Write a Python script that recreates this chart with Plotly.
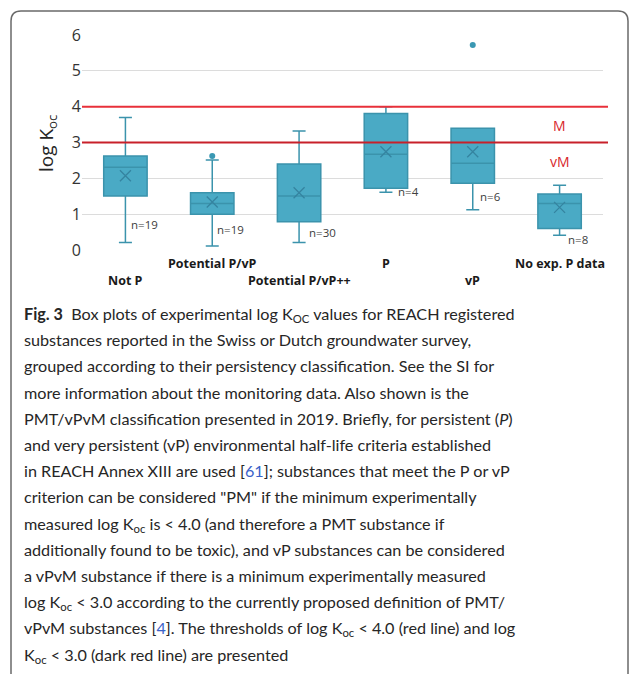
import plotly.graph_objects as go

# ---------------- data ----------------
categories = ["Not P", "Potential P/vP", "Potential P/vP++", "P", "vP", "No exp. P data"]
q1 = [1.51, 1.00, 0.79, 1.72, 1.86, 0.60]
median = [2.31, 1.30, 1.51, 2.67, 2.42, 1.30]
q3 = [2.62, 1.60, 2.40, 3.81, 3.40, 1.56]
lower_whisker = [0.21, 0.11, 0.21, 1.61, 1.12, 0.41]
upper_whisker = [3.70, 2.51, 3.32, 4.00, 3.40, 1.81]
means = [2.07, 1.34, 1.60, 2.74, 2.74, 1.19]
n_counts = [19, 19, 30, 4, 6, 8]
outlier_cats = ["Potential P/vP", "vP"]
outlier_vals = [2.62, 5.72]
thresholds = [4.0, 3.0]
threshold_labels = ["M", "vM"]
y_ticks = [0, 1, 2, 3, 4, 5, 6]

caption_lines = [
    "<b>Fig. 3</b>&nbsp; Box plots of experimental log K<sub>OC</sub> values for REACH registered",
    "substances reported in the Swiss or Dutch groundwater survey,",
    "grouped according to their persistency classification. See the SI for",
    "more information about the monitoring data. Also shown is the",
    "PMT/vPvM classification presented in 2019. Briefly, for persistent (<i>P</i>)",
    "and very persistent (vP) environmental half-life criteria established",
    "in REACH Annex XIII are used [<span style='color:#3a62c9'>61</span>]; substances that meet the P or vP",
    "criterion can be considered \"PM\" if the minimum experimentally",
    "measured log K<sub>oc</sub> is &lt; 4.0 (and therefore a PMT substance if",
    "additionally found to be toxic), and vP substances can be considered",
    "a vPvM substance if there is a minimum experimentally measured",
    "log K<sub>oc</sub> &lt; 3.0 according to the currently proposed definition of PMT/",
    "vPvM substances [<span style='color:#3a62c9'>4</span>]. The thresholds of log K<sub>oc</sub> &lt; 4.0 (red line) and log",
    "K<sub>oc</sub> &lt; 3.0 (dark red line) are presented",
]

# ---------------- geometry helpers (pixel -> paper) ----------------
W, H = 629, 674
L, R, T, B = 82, 603, 35, 250


def px(x):
    return (x - L) / (R - L)


def py(y):
    return (B - y) / (B - T)


FILL = "#4aaac5"
EDGE = "#3b93ac"
MEAN_C = "#3584a0"

fig = go.Figure()
fig.add_trace(go.Box(
    x=categories, q1=q1, median=median, q3=q3,
    lowerfence=lower_whisker, upperfence=upper_whisker,
    fillcolor=FILL, line=dict(color=EDGE, width=1.5),
    width=0.5, whiskerwidth=0.3, boxpoints=False, hoverinfo="skip",
    showlegend=False,
))
fig.add_trace(go.Scatter(
    x=categories, y=means, mode="markers",
    marker=dict(symbol="x-thin-open", size=11, color=MEAN_C, line=dict(color=MEAN_C, width=1.3)),
    showlegend=False, hoverinfo="skip",
))
fig.add_trace(go.Scatter(
    x=outlier_cats, y=outlier_vals, mode="markers",
    marker=dict(symbol="circle", size=6, color="#3a98b3"),
    showlegend=False, hoverinfo="skip",
))

# threshold lines
line_colors = ["#e8303a", "#c8202a"]
for val, col in zip(thresholds, line_colors):
    fig.add_shape(type="line", xref="paper", yref="y", x0=0, x1=px(608), y0=val, y1=val,
                  line=dict(color=col, width=2), layer="above")

annotations = []
# M / vM labels
for val, lab in zip(thresholds, threshold_labels):
    annotations.append(dict(x=5.0, y=val - 0.2, xref="x", yref="y", text=lab, showarrow=False,
                            font=dict(family="Open Sans", size=14, color="#d8262c"),
                            xanchor="center", yanchor="top"))

# n labels
n_label_y = [0.70, 0.56, 0.50, 1.62, 1.48, 0.28]
n_label_dx = [0.22, 0.21, 0.27, 0.26, 0.21, 0.21]
for i, (n, ly, dx) in enumerate(zip(n_counts, n_label_y, n_label_dx)):
    annotations.append(dict(x=i + dx, y=ly, xref="x", yref="y", text=f"n={n}", showarrow=False,
                            font=dict(family="Open Sans", size=11.5, color="#404040"),
                            xanchor="center", yanchor="middle"))

# category labels (staggered rows)
for i, cat in enumerate(categories):
    row_y = 263 if i % 2 == 1 else 280
    annotations.append(dict(x=i, y=py(row_y), xref="x", yref="paper", text=f"<b>{cat}</b>",
                            showarrow=False, xanchor="center", yanchor="middle",
                            font=dict(family="Open Sans", size=12.5, color="#1a1a1a")))

# y title
annotations.append(dict(x=px(47), y=py(143), xref="paper", yref="paper",
                        text="log K<sub>oc</sub>", textangle=-90, showarrow=False,
                        xanchor="center", yanchor="middle",
                        font=dict(family="Open Sans", size=19, color="#262626")))

# caption
for k, line in enumerate(caption_lines):
    cy = 312 + k * 26.2
    annotations.append(dict(x=px(22), y=py(cy - 10), xref="paper", yref="paper", text=line,
                            showarrow=False, xanchor="left", yanchor="top", align="left",
                            font=dict(family="Lato", size=16.2, color="#262626")))

# border (rounded frame)
path = (f"M {px(21)},{py(684)} Q {px(11)},{py(684)} {px(11)},{py(674)} "
        f"L {px(11)},{py(21)} Q {px(11)},{py(11)} {px(21)},{py(11)} "
        f"L {px(618)},{py(11)} Q {px(628)},{py(11)} {px(628)},{py(21)} L {px(628)},{py(684)}")
fig.add_shape(type="path", xref="paper", yref="paper", path=path,
              line=dict(color="#6a6a6a", width=1.5))

fig.update_layout(
    width=W, height=H,
    margin=dict(l=L, r=W - R, t=T, b=H - B),
    paper_bgcolor="white", plot_bgcolor="white",
    annotations=annotations,
    xaxis=dict(range=[-0.5, 5.5], showticklabels=False, showgrid=False, zeroline=False,
               showline=False, ticks=""),
    yaxis=dict(range=[0, 6], tickvals=y_ticks, showgrid=True, gridcolor="#dcdcdc", gridwidth=1,
               zeroline=False, showline=False, ticks="",
               tickfont=dict(family="Open Sans", size=16, color="#333333")),
)

fig.write_html("out.html", config={"displayModeBar": False},
               post_script="document.body.style.margin='0';document.body.style.overflow='hidden';")
